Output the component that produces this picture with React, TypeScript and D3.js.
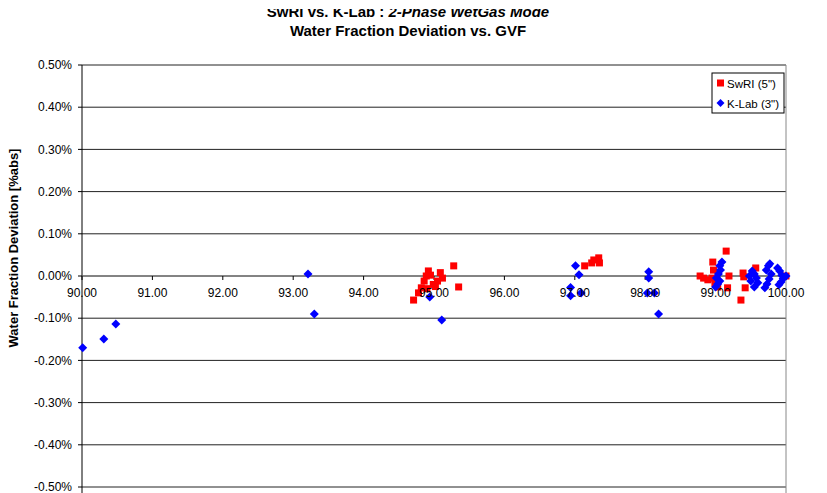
import React from "react";
import * as d3 from "d3";

// SwRI (5") water fraction deviation vs GVF [%]
const swriGvf = [
  94.71, 94.78, 94.82, 94.86, 94.89, 94.92, 94.95, 94.99, 95.05, 95.09, 95.12, 94.9, 95.02, 95.28, 95.35,
  97.14, 97.24, 97.27, 97.34, 97.35,
  98.78, 98.83, 98.89, 98.95, 98.96, 98.97, 98.99, 99.03, 99.15, 99.17, 99.19, 99.36, 99.39, 99.42, 99.40, 99.57, 100.0,
];
const swriDev = [
  -0.057, -0.04, -0.028, -0.012, 0.0, 0.012, 0.002, -0.02, -0.012, 0.008, -0.005, -0.03, -0.025, 0.024, -0.026,
  0.024, 0.031, 0.038, 0.043, 0.031,
  0.0, -0.005, -0.009, -0.005, 0.033, 0.014, -0.017, -0.026, 0.059, -0.028, 0.0, -0.057, 0.007, -0.028, -0.002, 0.019, 0.0,
];

// K-Lab (3") water fraction deviation vs GVF [%]
const klabGvf = [
  90.01, 90.31, 90.48, 93.21, 93.30, 94.94, 95.11,
  97.01, 97.06, 96.94, 96.94, 97.09,
  98.05, 98.05, 98.03, 98.13, 98.19,
  99.09, 99.06, 99.07, 99.04, 99.01, 99.06, 99.03, 99.0,
  99.48, 99.52, 99.55, 99.58, 99.60, 99.55, 99.50,
  99.72, 99.75, 99.77, 99.79, 99.76, 99.73, 99.70,
  99.88, 99.91, 99.94, 99.96, 99.93, 99.90, 100.0,
];
const klabDev = [
  -0.17, -0.149, -0.114, 0.005, -0.09, -0.05, -0.104,
  0.024, 0.003, -0.027, -0.047, -0.04,
  0.01, -0.005, -0.04, -0.04, -0.09,
  0.033, 0.024, 0.014, 0.005, -0.005, -0.012, -0.019, -0.026,
  0.0, 0.012, 0.005, -0.005, -0.016, -0.026, -0.012,
  0.014, 0.024, 0.029, 0.005, -0.007, -0.019, -0.028,
  0.019, 0.012, 0.002, -0.006, -0.014, -0.021, 0.0,
];

const xTicks = [90, 91, 92, 93, 94, 95, 96, 97, 98, 99, 100];
const yTicks = [0.5, 0.4, 0.3, 0.2, 0.1, 0, -0.1, -0.2, -0.3, -0.4, -0.5];

const titleLine1 = "SwRI vs. K-Lab : ";
const titleLine1Italic = "2-Phase WetGas Mode";
const titleLine2 = "Water Fraction Deviation vs. GVF";
const yTitle = "Water Fraction Deviation [%abs]";
const seriesNames = ['SwRI (5")', 'K-Lab (3")'];

const W = 827;
const H = 493;
const left = 82;
const right = 786;
const top = 65;
const bottom = 487;
const font = "'Liberation Sans', Arial, sans-serif";

export default function App() {
  const x = d3.scaleLinear().domain([90, 100]).range([left, right]);
  const y = d3.scaleLinear().domain([-0.5, 0.5]).range([bottom, top]);

  const diamond = (cx: number, cy: number, r: number) =>
    `M${cx},${cy - r}L${cx + r},${cy}L${cx},${cy + r}L${cx - r},${cy}Z`;

  return (
    <svg
      width={W}
      height={H}
      style={{ position: "absolute", left: 0, top: 0, background: "#fff" }}
      fontFamily={font}
    >
      <defs>
        <clipPath id="titleClip">
          <rect x={0} y={9} width={W} height={20} />
        </clipPath>
      </defs>
      <rect x={0} y={0} width={W} height={H} fill="#fff" />

      {/* Titles */}
      <text
        x={408}
        y={17}
        textAnchor="middle"
        fontSize={15}
        fontWeight="bold"
        clipPath="url(#titleClip)"
      >
        {titleLine1}
        <tspan fontStyle="italic">{titleLine1Italic}</tspan>
      </text>
      <text x={408} y={36} textAnchor="middle" fontSize={15} fontWeight="bold">
        {titleLine2}
      </text>

      {/* Horizontal gridlines */}
      {yTicks.map((t) => (
        <line key={"g" + t} x1={left} x2={right} y1={y(t)} y2={y(t)} stroke="#222" strokeWidth={1} />
      ))}
      {/* Plot border right */}
      <line x1={right} x2={right} y1={top} y2={H} stroke="#888" strokeWidth={1} />
      {/* Y axis */}
      <line x1={left} x2={left} y1={top} y2={H} stroke="#000" strokeWidth={1} />
      {yTicks.map((t) => (
        <line key={"yt" + t} x1={left - 4} x2={left} y1={y(t)} y2={y(t)} stroke="#000" />
      ))}
      {yTicks.map((t) => (
        <text
          key={"yl" + t}
          x={72}
          y={y(t)}
          dy="0.35em"
          textAnchor="end"
          fontSize={12}
          fill="#000"
        >
          {t.toFixed(2) + "%"}
        </text>
      ))}

      {/* X axis at zero */}
      <line x1={left} x2={right} y1={y(0)} y2={y(0)} stroke="#777" strokeWidth={1} />
      {xTicks.map((t) => (
        <line key={"xt" + t} x1={x(t)} x2={x(t)} y1={y(0)} y2={y(0) + 4} stroke="#000" />
      ))}

      {/* Y axis title */}
      <text
        transform={`translate(18,248) rotate(-90)`}
        textAnchor="middle"
        fontSize={13}
        fontWeight="bold"
      >
        {yTitle}
      </text>

      {/* SwRI markers */}
      {swriGvf.map((g, i) => (
        <rect
          key={"s" + i}
          x={x(g) - 3.5}
          y={y(swriDev[i]) - 3.5}
          width={7}
          height={7}
          fill="#ff0000"
        />
      ))}
      {/* K-Lab markers */}
      {klabGvf.map((g, i) => (
        <path key={"k" + i} d={diamond(x(g), y(klabDev[i]), 4.5)} fill="#0000ff" />
      ))}

      {/* X tick labels */}
      {xTicks.map((t) => (
        <text key={"xl" + t} x={x(t)} y={y(0) + 21} textAnchor="middle" fontSize={12} fill="#000">
          {t.toFixed(2)}
        </text>
      ))}

      {/* Legend */}
      <rect x={712} y={73} width={72} height={40} fill="#fff" stroke="#000" strokeWidth={1} />
      <rect x={717} y={79.5} width={7} height={7} fill="#ff0000" />
      <text x={727} y={87.5} fontSize={11.5}>
        {seriesNames[0]}
      </text>
      <path d={diamond(720.5, 103, 4)} fill="#0000ff" />
      <text x={727} y={107.5} fontSize={11.5}>
        {seriesNames[1]}
      </text>
    </svg>
  );
}
